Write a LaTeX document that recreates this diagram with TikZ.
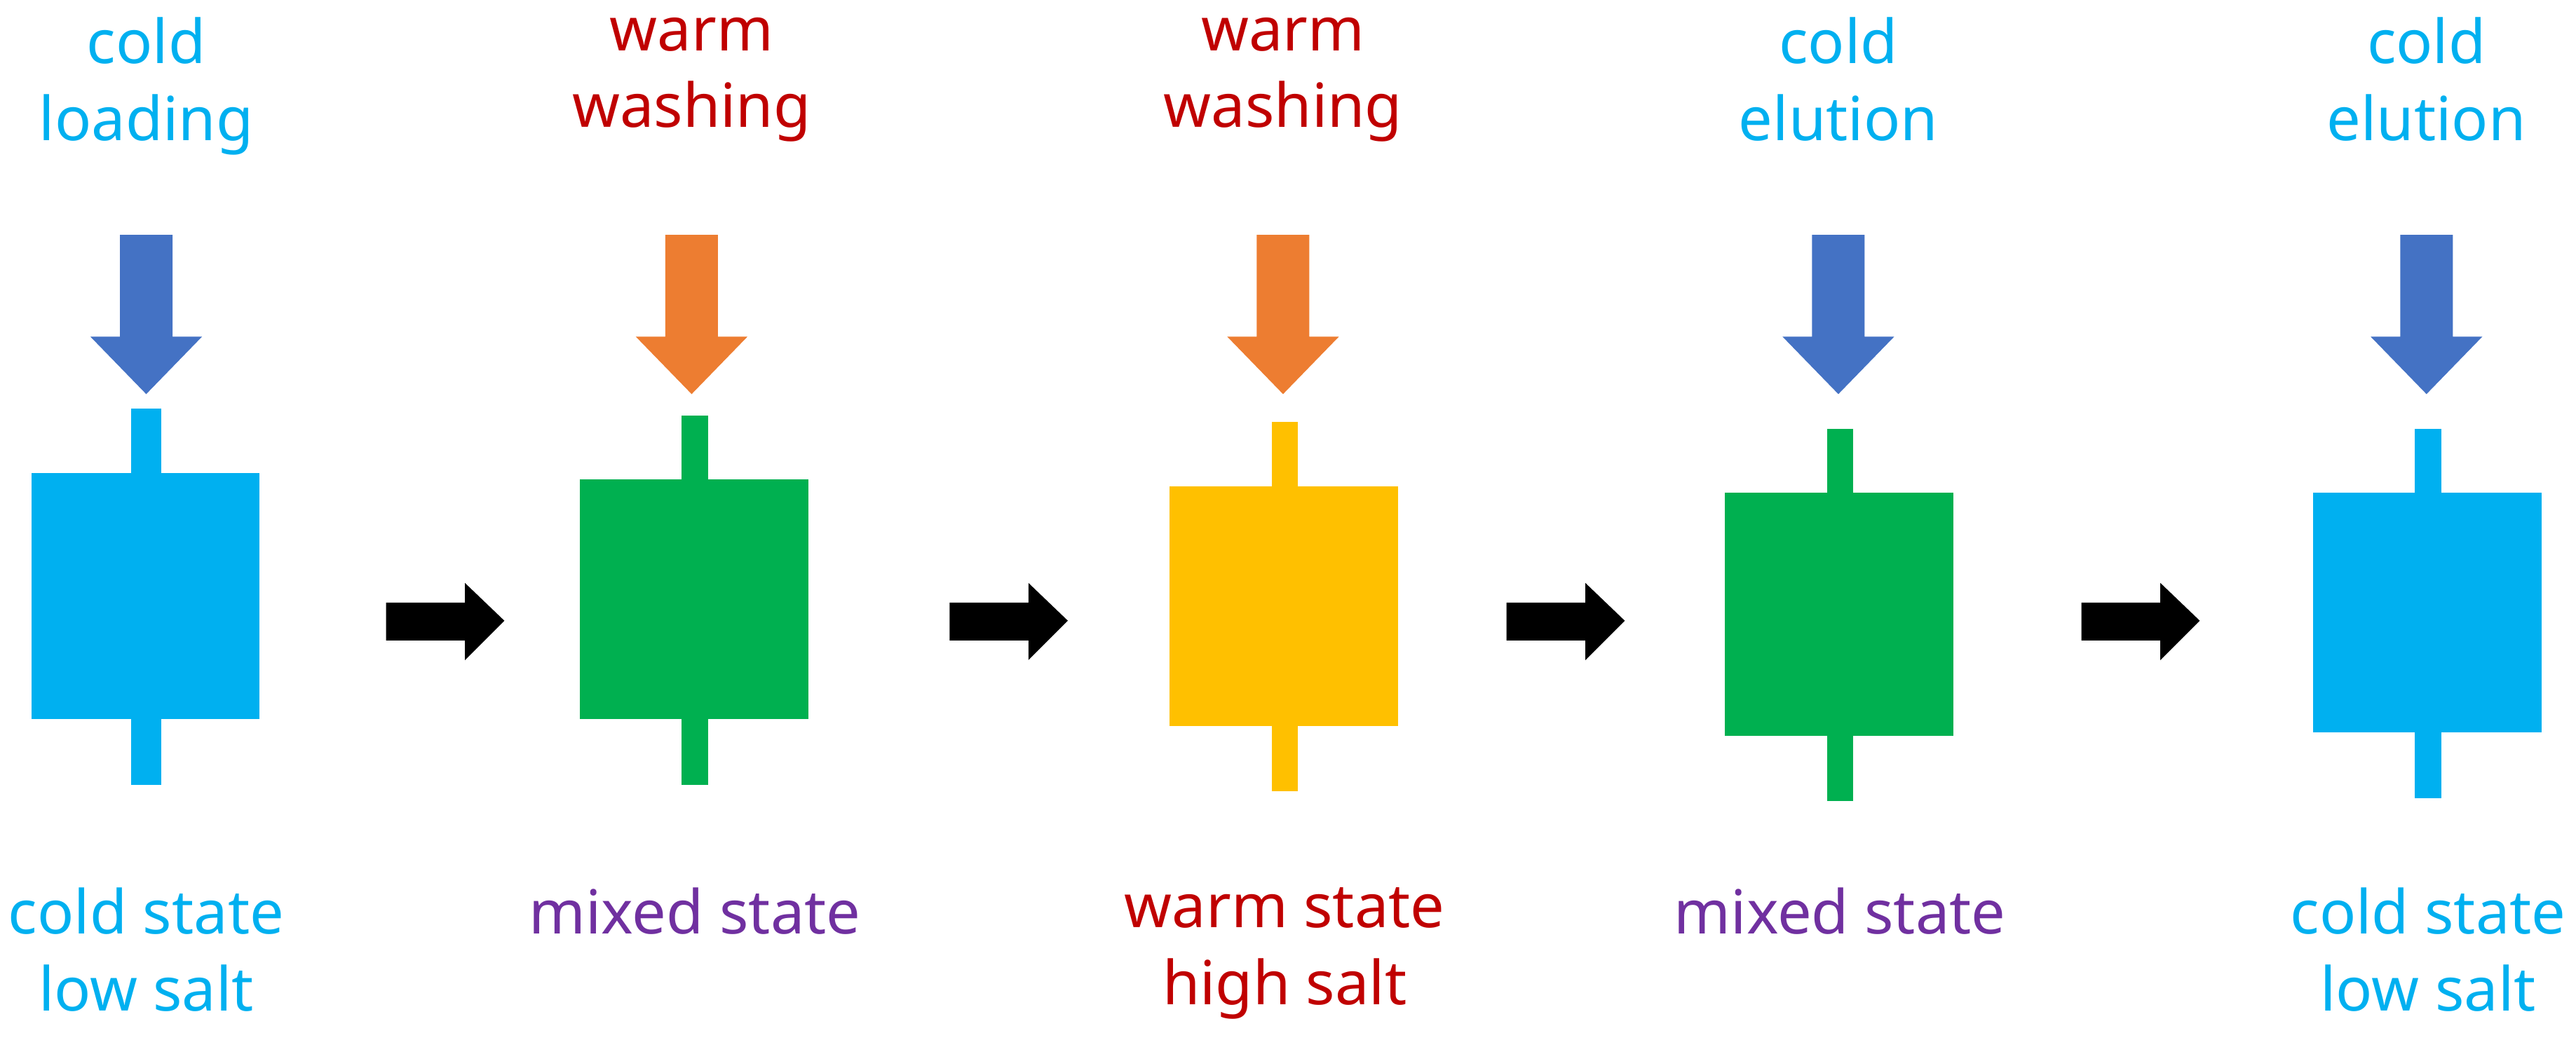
\documentclass[tikz,border=0pt]{standalone}
\usepackage{fontspec}
\setmainfont{Noto Sans}
\definecolor{cy}{HTML}{00B0F0}
\definecolor{gr}{HTML}{00B050}
\definecolor{ye}{HTML}{FFC000}
\definecolor{bl}{HTML}{4472C4}
\definecolor{or}{HTML}{ED7D31}
\definecolor{rd}{HTML}{C00000}
\definecolor{pu}{HTML}{7030A0}
\newcommand\colbox[5]{% cx, boxtop, boxbot, color, stemhalf
 \fill[#4] (#1-70,#2) rectangle (#1+69,#3);
 \fill[#4] (#1-#5,#2-39) rectangle (#1+#5,#3+40);}
\newcommand\downarr[2]{%
 \fill[#2] (#1-16,143) -- (#1+16,143) -- (#1+16,205) -- (#1+34,205) -- (#1,240) -- (#1-34,205) -- (#1-16,205) -- cycle;}
\newcommand\rightarr[1]{%
 \fill[black] (#1,367) -- (#1+48,367) -- (#1+48,355) -- (#1+72,378) -- (#1+48,402) -- (#1+48,390) -- (#1,390) -- cycle;}
\begin{document}
\begin{tikzpicture}[x=0.01cm,y=-0.01cm,
 lbl/.style={align=center,font=\fontsize{10.5}{13.3}\selectfont,inner sep=0pt,anchor=north}]
\useasboundingbox (0,0) rectangle (1568,633);
\colbox{89}{288}{438}{cy}{9}
\colbox{423}{292}{438}{gr}{8}
\colbox{782}{296}{442}{ye}{8}
\colbox{1120}{300}{448}{gr}{8}
\colbox{1478}{300}{446}{cy}{8}
\downarr{89}{bl}
\downarr{421}{or}
\downarr{781}{or}
\downarr{1119}{bl}
\downarr{1477}{bl}
\rightarr{235}
\rightarr{578}
\rightarr{917}
\rightarr{1267}
\node[lbl,text=cy] (t1) at (89,10) {cold\\loading};
\node[lbl,text=rd] (t2) at (421,10) {warm\\washing};
\node[lbl,text=rd] (t3) at (781,10) {warm\\washing};
\node[lbl,text=cy] (t4) at (1119,10) {cold\\elution};
\node[lbl,text=cy] (t5) at (1477,10) {cold\\elution};
\node[lbl,text=cy] (b1) at (89,540) {cold state\\low salt};
\node[lbl,text=pu] (b2) at (423,540) {mixed state};
\node[lbl,text=rd] (b3) at (782,540) {warm state\\high salt};
\node[lbl,text=pu] (b4) at (1120,540) {mixed state};
\node[lbl,text=cy] (b5) at (1478,540) {cold state\\low salt};
\end{tikzpicture}
\end{document}
